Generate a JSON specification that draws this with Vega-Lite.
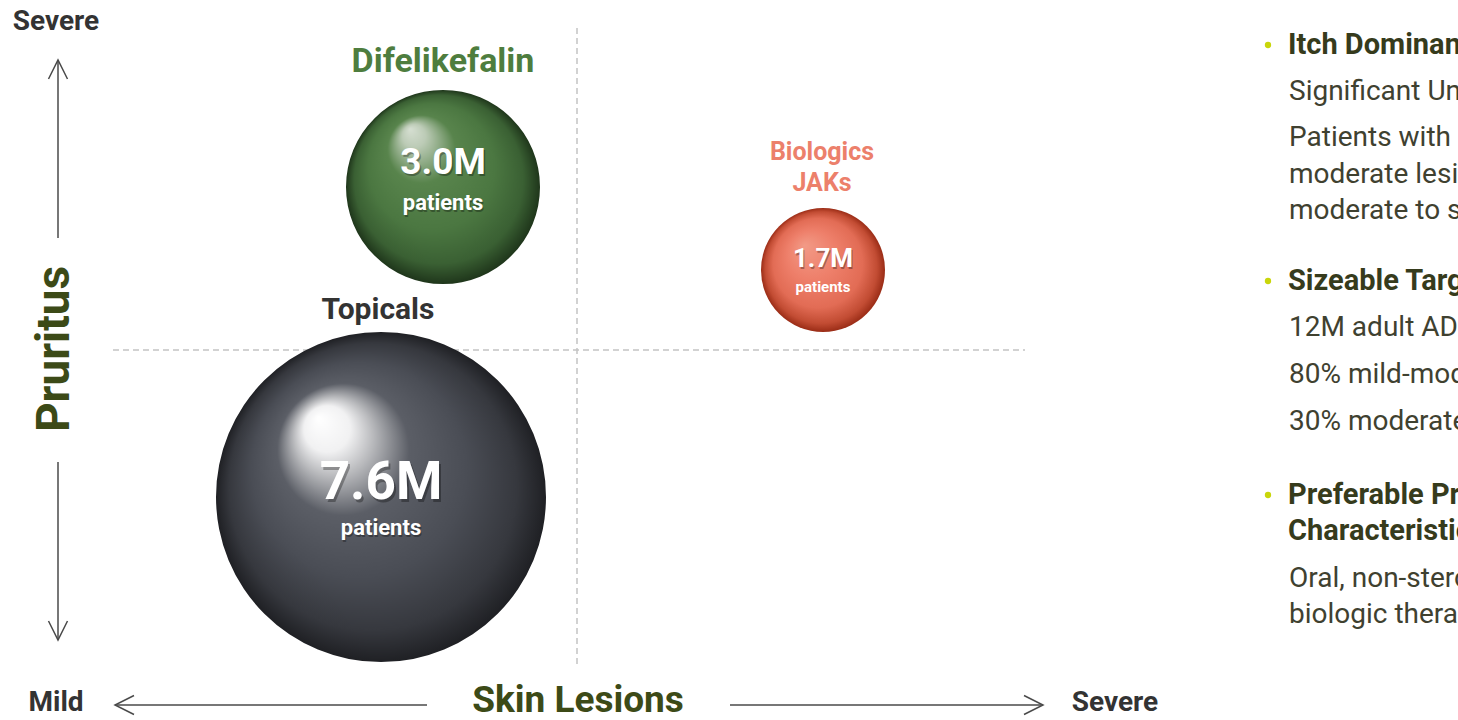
{
  "$schema": "https://vega.github.io/schema/vega-lite/v6.json",
  "width": 1458,
  "height": 720,
  "autosize": {"type": "none"},
  "padding": 0,
  "background": "#ffffff",
  "config": {"view": {"stroke": null}, "font": "Roboto"},
  "datasets": {
    "markets": [
      {"segment": "Topicals", "patients": 7.6, "x": -1.96, "y": -1.47},
      {"segment": "Difelikefalin", "patients": 3.0, "x": -1.34, "y": 1.63},
      {"segment": "Biologics / JAKs", "patients": 1.7, "x": 2.46, "y": 0.80}
    ],
    "quadrants": [
      {"x": 0, "y": 3.22, "x2": 0, "y2": -3.18},
      {"x": -4.64, "y": 0, "x2": 4.48, "y2": 0}
    ],
    "arrows": [
      {"x": -5.19, "y": 1.12, "x2": -5.19, "y2": 2.90},
      {"x": -5.19, "y": -1.12, "x2": -5.19, "y2": -2.90},
      {"x": -1.50, "y": -3.55, "x2": -4.62, "y2": -3.55},
      {"x": 1.53, "y": -3.55, "x2": 4.66, "y2": -3.55}
    ],
    "heads": [
      {"x": -5.19, "y": 2.90, "dir": "up"},
      {"x": -5.19, "y": -2.90, "dir": "down"},
      {"x": -4.62, "y": -3.55, "dir": "left"},
      {"x": 4.66, "y": -3.55, "dir": "right"}
    ],
    "ends": [
      {"text": "Severe", "x": -5.21, "y": 3.28},
      {"text": "Mild", "x": -5.21, "y": -3.53},
      {"text": "Severe", "x": 5.38, "y": -3.53}
    ],
    "axisTitleY": [{"text": "Pruritus", "x": -5.22, "y": 0.01}],
    "axisTitleX": [{"text": "Skin Lesions", "x": 0.01, "y": -3.51}],
    "nameGreen": [{"text": "Difelikefalin", "x": -1.34, "y": 2.88}],
    "nameDark": [{"text": "Topicals", "x": -1.99, "y": 0.40}],
    "nameRed": [
      {"text": "Biologics", "x": 2.45, "y": 1.98},
      {"text": "JAKs", "x": 2.45, "y": 1.67}
    ],
    "bigNum": [{"text": "7.6M", "x": -1.96, "y": -1.33}],
    "midNum": [{"text": "3.0M", "x": -1.34, "y": 1.87}],
    "smallNum": [{"text": "1.7M", "x": 2.46, "y": 0.91}],
    "patientsLarge": [
      {"text": "patients", "x": -1.96, "y": -1.78},
      {"text": "patients", "x": -1.34, "y": 1.47}
    ],
    "patientsSmall": [{"text": "patients", "x": 2.46, "y": 0.63}],
    "bullets": [
      {"x": 6.91, "y": 3.05},
      {"x": 6.91, "y": 0.69},
      {"x": 6.91, "y": -1.45}
    ],
    "headings": [
      {"text": "Itch Dominant Population", "x": 7.11, "y": 3.05},
      {"text": "Sizeable Target Population", "x": 7.11, "y": 0.69},
      {"text": "Preferable Product", "x": 7.11, "y": -1.45},
      {"text": "Characteristics", "x": 7.11, "y": -1.81}
    ],
    "body": [
      {"text": "Significant Unmet Need", "x": 7.12, "y": 2.58},
      {"text": "Patients with mild-to-", "x": 7.12, "y": 2.12},
      {"text": "moderate lesions and", "x": 7.12, "y": 1.75},
      {"text": "moderate to severe itch", "x": 7.12, "y": 1.39},
      {"text": "12M adult AD patients", "x": 7.12, "y": 0.22},
      {"text": "80% mild-moderate", "x": 7.12, "y": -0.25},
      {"text": "30% moderate-severe itch", "x": 7.12, "y": -0.72},
      {"text": "Oral, non-steroidal, non-", "x": 7.12, "y": -2.29},
      {"text": "biologic therapy", "x": 7.12, "y": -2.65}
    ]
  },
  "encoding": {
    "x": {"field": "x", "type": "quantitative", "scale": {"domain": [-5.77, 8.81], "nice": false, "zero": false}, "axis": null},
    "y": {"field": "y", "type": "quantitative", "scale": {"domain": [-3.70, 3.50], "nice": false, "zero": false}, "axis": null}
  },
  "layer": [
    {
      "data": {"name": "quadrants"},
      "mark": {"type": "rule", "color": "#c4c4c4", "strokeWidth": 1.5, "strokeDash": [6, 4]},
      "encoding": {"x2": {"field": "x2"}, "y2": {"field": "y2"}}
    },
    {
      "data": {"name": "arrows"},
      "mark": {"type": "rule", "color": "#4a4a4a", "strokeWidth": 1.5},
      "encoding": {"x2": {"field": "x2"}, "y2": {"field": "y2"}}
    },
    {
      "data": {"name": "heads"},
      "mark": {"type": "point", "filled": false, "stroke": "#4a4a4a", "strokeWidth": 1.5, "opacity": 1, "size": 1444},
      "encoding": {
        "shape": {"field": "dir", "type": "nominal", "legend": null,
          "scale": {"domain": ["up", "down", "left", "right"],
            "range": ["M-0.5,1L0,0L0.5,1", "M-0.5,-1L0,0L0.5,-1", "M1,-0.5L0,0L1,0.5", "M-1,-0.5L0,0L-1,0.5"]}}
      }
    },
    {
      "data": {"name": "markets"},
      "transform": [{"filter": "datum.segment === 'Topicals'"}],
      "mark": {"type": "point", "filled": true, "opacity": 1, "strokeWidth": 0,
        "fill": {"gradient": "radial", "x1": 0.31, "y1": 0.26, "r1": 0, "x2": 0.5, "y2": 0.5, "r2": 0.5,
          "stops": [
            {"offset": 0, "color": "#ffffff"},
            {"offset": 0.14, "color": "#f1f1f2"},
            {"offset": 0.24, "color": "#b9babd"},
            {"offset": 0.4, "color": "#5b5e66"},
            {"offset": 0.65, "color": "#4a4d55"},
            {"offset": 0.87, "color": "#36383e"},
            {"offset": 1, "color": "#1f2024"}
          ]}},
      "encoding": {
        "size": {"field": "patients", "type": "quantitative", "legend": null,
          "scale": {"type": "linear", "domain": [1.7, 3.0, 7.6], "range": [15376, 37636, 108900], "zero": false}}
      }
    },
    {
      "data": {"name": "markets"},
      "transform": [{"filter": "datum.segment === 'Difelikefalin'"}],
      "mark": {"type": "point", "filled": true, "opacity": 1, "strokeWidth": 0,
        "fill": {"gradient": "radial", "x1": 0.33, "y1": 0.2, "r1": 0, "x2": 0.5, "y2": 0.5, "r2": 0.5,
          "stops": [
            {"offset": 0, "color": "#d6dfd2"},
            {"offset": 0.12, "color": "#bccbb6"},
            {"offset": 0.35, "color": "#58844c"},
            {"offset": 0.65, "color": "#4b7741"},
            {"offset": 0.87, "color": "#3a6033"},
            {"offset": 1, "color": "#1f361b"}
          ]}},
      "encoding": {
        "size": {"field": "patients", "type": "quantitative", "legend": null}
      }
    },
    {
      "data": {"name": "markets"},
      "transform": [{"filter": "datum.segment === 'Biologics / JAKs'"}],
      "mark": {"type": "point", "filled": true, "opacity": 1, "strokeWidth": 0,
        "fill": {"gradient": "radial", "x1": 0.35, "y1": 0.3, "r1": 0, "x2": 0.5, "y2": 0.5, "r2": 0.5,
          "stops": [
            {"offset": 0, "color": "#f29a86"},
            {"offset": 0.4, "color": "#ee7f6a"},
            {"offset": 0.72, "color": "#e26c55"},
            {"offset": 0.9, "color": "#c24c33"},
            {"offset": 1, "color": "#9a2c16"}
          ]}},
      "encoding": {
        "size": {"field": "patients", "type": "quantitative", "legend": null}
      }
    },
    {
      "data": {"name": "ends"},
      "mark": {"type": "text", "font": "Roboto", "fontWeight": "bold", "fontSize": 28, "color": "#333333", "baseline": "middle", "align": "center"},
      "encoding": {"text": {"field": "text"}}
    },
    {
      "data": {"name": "axisTitleY"},
      "mark": {"type": "text", "font": "Roboto", "fontWeight": "bold", "fontSize": 46, "color": "#3c4a17", "baseline": "middle", "align": "center", "angle": 270},
      "encoding": {"text": {"field": "text"}}
    },
    {
      "data": {"name": "axisTitleX"},
      "mark": {"type": "text", "font": "Roboto", "fontWeight": "bold", "fontSize": 37, "color": "#3c4a17", "baseline": "middle", "align": "center"},
      "encoding": {"text": {"field": "text"}}
    },
    {
      "data": {"name": "nameGreen"},
      "mark": {"type": "text", "font": "Roboto", "fontWeight": "bold", "fontSize": 34, "color": "#4e7d3e", "baseline": "middle", "align": "center"},
      "encoding": {"text": {"field": "text"}}
    },
    {
      "data": {"name": "nameDark"},
      "mark": {"type": "text", "font": "Roboto", "fontWeight": "bold", "fontSize": 30, "color": "#333333", "baseline": "middle", "align": "center"},
      "encoding": {"text": {"field": "text"}}
    },
    {
      "data": {"name": "nameRed"},
      "mark": {"type": "text", "font": "Roboto", "fontWeight": "bold", "fontSize": 25, "color": "#ec806b", "baseline": "middle", "align": "center"},
      "encoding": {"text": {"field": "text"}}
    },
    {
      "data": {"name": "bigNum"},
      "mark": {"type": "text", "font": "Roboto", "fontWeight": "bold", "fontSize": 53, "color": "#000000", "opacity": 0.3, "dx": 2, "dy": 3, "baseline": "middle", "align": "center"},
      "encoding": {"text": {"field": "text"}}
    },
    {
      "data": {"name": "bigNum"},
      "mark": {"type": "text", "font": "Roboto", "fontWeight": "bold", "fontSize": 53, "color": "#ffffff", "baseline": "middle", "align": "center"},
      "encoding": {"text": {"field": "text"}}
    },
    {
      "data": {"name": "midNum"},
      "mark": {"type": "text", "font": "Roboto", "fontWeight": "bold", "fontSize": 37, "color": "#000000", "opacity": 0.3, "dx": 1.5, "dy": 2, "baseline": "middle", "align": "center"},
      "encoding": {"text": {"field": "text"}}
    },
    {
      "data": {"name": "midNum"},
      "mark": {"type": "text", "font": "Roboto", "fontWeight": "bold", "fontSize": 37, "color": "#ffffff", "baseline": "middle", "align": "center"},
      "encoding": {"text": {"field": "text"}}
    },
    {
      "data": {"name": "smallNum"},
      "mark": {"type": "text", "font": "Roboto", "fontWeight": "bold", "fontSize": 26, "color": "#000000", "opacity": 0.3, "dx": 1, "dy": 1.5, "baseline": "middle", "align": "center"},
      "encoding": {"text": {"field": "text"}}
    },
    {
      "data": {"name": "smallNum"},
      "mark": {"type": "text", "font": "Roboto", "fontWeight": "bold", "fontSize": 26, "color": "#ffffff", "baseline": "middle", "align": "center"},
      "encoding": {"text": {"field": "text"}}
    },
    {
      "data": {"name": "patientsLarge"},
      "mark": {"type": "text", "font": "Roboto", "fontWeight": "bold", "fontSize": 22, "color": "#000000", "opacity": 0.3, "dx": 1, "dy": 1.5, "baseline": "middle", "align": "center"},
      "encoding": {"text": {"field": "text"}}
    },
    {
      "data": {"name": "patientsLarge"},
      "mark": {"type": "text", "font": "Roboto", "fontWeight": "bold", "fontSize": 22, "color": "#ffffff", "baseline": "middle", "align": "center"},
      "encoding": {"text": {"field": "text"}}
    },
    {
      "data": {"name": "patientsSmall"},
      "mark": {"type": "text", "font": "Roboto", "fontWeight": "bold", "fontSize": 15, "color": "#ffffff", "baseline": "middle", "align": "center"},
      "encoding": {"text": {"field": "text"}}
    },
    {
      "data": {"name": "bullets"},
      "mark": {"type": "circle", "color": "#c9d60a", "opacity": 1, "size": 40},
      "encoding": {}
    },
    {
      "data": {"name": "headings"},
      "mark": {"type": "text", "font": "Roboto", "fontWeight": "bold", "fontSize": 29, "color": "#363b1c", "baseline": "middle", "align": "left"},
      "encoding": {"text": {"field": "text"}}
    },
    {
      "data": {"name": "body"},
      "mark": {"type": "text", "font": "Roboto", "fontSize": 28, "color": "#3f4130", "baseline": "middle", "align": "left"},
      "encoding": {"text": {"field": "text"}}
    }
  ]
}
